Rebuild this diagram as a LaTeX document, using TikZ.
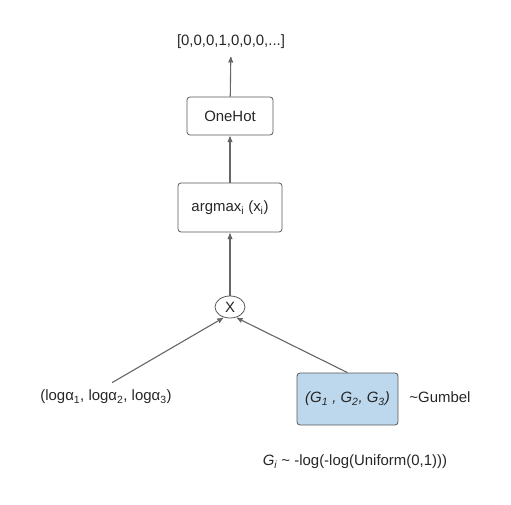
\documentclass[tikz,border=0pt]{standalone}
\usepackage{fontspec}
\setmainfont{Liberation Sans}
\usetikzlibrary{arrows,shapes.geometric}

\definecolor{gblue}{RGB}{189,215,236}

\begin{document}
\begin{tikzpicture}[x=1bp,y=-1bp,->,>=stealth',shorten >=1pt,line width=1.1bp,draw=black!60,
  every node/.style={font=\fontsize{15}{17}\selectfont,text=black!85}]
  \tikzstyle{box}=[draw=black!65,line width=0.8bp,rounded corners=3bp,fill=white]

  \useasboundingbox (0,0) rectangle (511,505);

  \node (vec) at (231,42) {[0,0,0,1,0,0,0,...]};
  \node[box,minimum width=86bp,minimum height=38bp] (onehot) at (230,116) {OneHot};
  \node[box,minimum width=104bp,minimum height=49bp] (argmax) at (230,207.5) {argmax\textsubscript{i} (x\textsubscript{i})};
  \node[ellipse,draw=black!65,line width=0.8bp,minimum width=30bp,minimum height=22bp,inner sep=0pt] (mul) at (230,307) {X};
  \node (logs) at (106,397) {(logα\textsubscript{1}, logα\textsubscript{2}, logα\textsubscript{3})};
  \node[box,fill=gblue,minimum width=101bp,minimum height=52bp] (gsample) at (347.5,399) {\textit{(G\textsubscript{1} , G\textsubscript{2}, G\textsubscript{3})}};
  \node (gumbel) at (440,397) {\textasciitilde Gumbel};
  \node (gdef) at (355,462) {\textit{G\textsubscript{i}} \textasciitilde{} -log(-log(Uniform(0,1)))};

  \path (onehot) edge[shorten >=4bp] (vec)
	(argmax) edge (onehot)
	(mul) edge (argmax)
	(logs.north) edge[shorten <=7bp] (mul.-120)
	(gsample.north) edge (mul.-60);
\end{tikzpicture}
\end{document}
